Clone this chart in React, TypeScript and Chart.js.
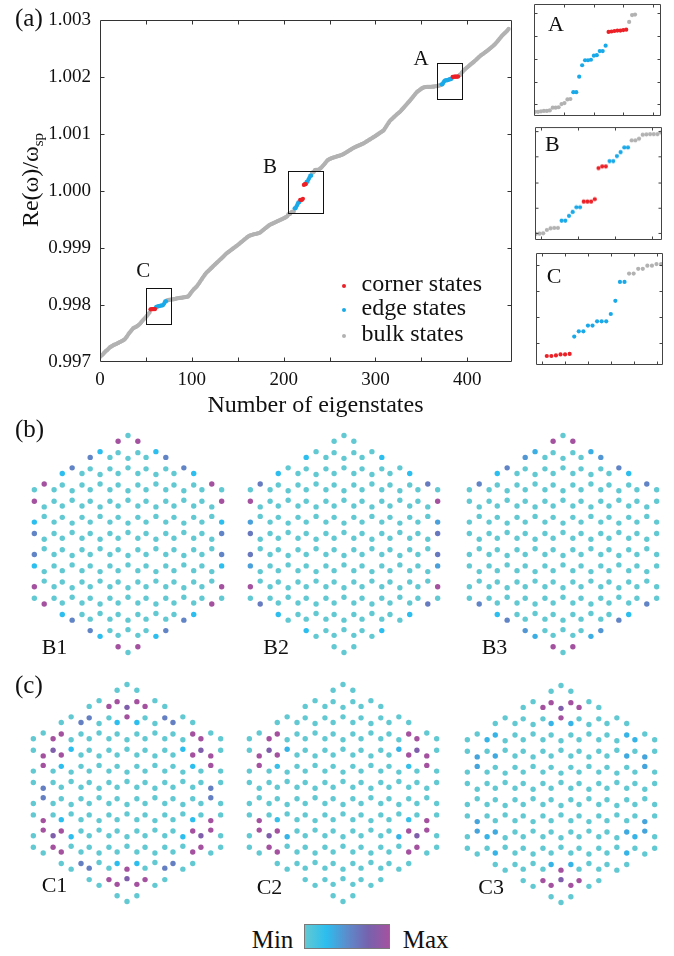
import React, { useEffect, useRef } from 'react';
import { Chart, registerables } from 'chart.js';

Chart.register(...registerables);

const SERIF = '"Liberation Serif", "Times New Roman", Times, serif';

// ---------------- (a) spectrum: Re(w)/w_sp - 1, in units of 1e-6, state index 0..445 ----------------
const EIGEN_PPM: number[] = [
  -2910, -2895, -2880, -2868, -2850, -2832, -2815, -2800, -2790, -2772, -2755, -2740,
  -2730, -2722, -2712, -2700, -2695, -2688, -2680, -2672, -2665, -2655, -2648, -2640, -2630, -2622, -2612, -2600,
  -2580, -2560, -2535, -2510, -2490, -2470, -2450, -2430, -2410,
  -2400, -2392, -2385, -2375, -2365, -2350, -2338, -2320,
  -2300, -2280, -2262, -2245, -2228, -2210, -2190, -2170, -2150, -2130,
  -2074, -2074, -2073, -2071, -2071, -2070,
  -2037, -2027, -2027, -2016, -2016, -2008, -2008, -2008, -1994, -1969, -1933, -1933,
  -1917, -1917, -1908, -1908, -1902, -1902, -1899, -1899,
  -1895, -1890, -1886, -1882, -1880, -1877, -1874, -1872, -1870, -1868, -1866, -1863, -1860, -1857, -1853, -1850,
  -1830, -1808, -1785, -1765, -1745, -1725, -1710, -1695, -1680,
  -1660, -1635, -1612, -1590, -1565, -1540, -1518, -1495, -1470, -1450, -1430,
  -1415, -1400, -1385, -1370, -1352, -1338, -1322, -1305, -1290, -1275, -1260, -1245, -1230, -1215, -1200,
  -1185, -1170, -1155, -1138, -1122, -1105, -1090,
  -1078, -1066, -1055, -1042, -1030, -1018, -1005, -993, -982, -970, -958, -945, -932, -920,
  -905, -892, -880, -866, -852, -840, -826, -812, -800, -790, -780,
  -775, -770, -765, -760, -756, -752, -748, -744, -740, -735, -730,
  -718, -705, -692, -678, -665, -652, -640, -627, -615, -602, -590,
  -582, -575, -568, -560, -553, -545, -537, -530, -522, -515, -507, -500, -493, -485, -477, -470, -460, -450, -440,
  -405, -403, -400, -374, -361, -358, -358,
  -301, -301, -264, -233, -196, -196,
  -152, -152, -152, -133, 110, 123, 123,
  165, 165, 204, 235, 272, 272,
  327, 327, 340, 371, 374, 376, 376, 376, 389,
  400, 415, 432, 450, 468, 487, 508, 530,
  545, 555, 565, 572, 578, 584, 590,
  595, 600, 605, 610, 615, 620, 625, 630, 636, 643, 650,
  660, 670, 680, 690, 700, 710, 720, 730, 740, 750, 760,
  768, 775, 782, 790, 797, 804, 811, 818, 826, 833, 840,
  850, 860, 870, 880, 890, 900, 910, 920, 930, 940, 950,
  960, 970, 981, 992, 1003, 1014, 1025, 1036, 1047, 1058, 1070,
  1095, 1120, 1145, 1170, 1195, 1218, 1240,
  1255, 1270, 1285, 1300, 1315, 1330, 1345, 1360, 1372, 1386, 1400,
  1418, 1436, 1454, 1472, 1490, 1508, 1527, 1546, 1564, 1582, 1600,
  1620, 1640, 1660, 1680, 1700, 1720, 1740,
  1752, 1764, 1776, 1788, 1800, 1810, 1820,
  1824, 1828, 1830, 1831, 1832, 1833,
  1834, 1834, 1835, 1836, 1836, 1837, 1843, 1843, 1844, 1851, 1853, 1861, 1862,
  1877, 1877, 1911, 1936, 1947, 1947, 1948, 1957, 1958, 1967, 1967, 1979,
  2009, 2010, 2011, 2012, 2012, 2013, 2014,
  2031, 2046, 2047, 2085, 2100, 2120,
  2135, 2150, 2163, 2177, 2190, 2205, 2218, 2232, 2245, 2258, 2270,
  2285, 2300, 2315, 2330, 2345, 2360, 2375, 2390, 2400, 2410,
  2422, 2434, 2446, 2458, 2470, 2483, 2496, 2510, 2523, 2537, 2550,
  2565, 2580, 2598, 2616, 2635, 2655, 2675, 2695, 2715, 2733, 2750,
  2765, 2780, 2795, 2810, 2830, 2850,
];
const CORNER_RANGES = [[55, 60], [218, 224], [384, 390]];
const EDGE_RANGES = [[61, 72], [212, 217], [225, 230], [372, 383]];

const X_TICKS = [0, 50, 100, 150, 200, 250, 300, 350, 400];
const X_LABELED = [0, 100, 200, 300, 400];
const Y_TICKS = [0.997, 0.998, 0.999, 1.0, 1.001, 1.002, 1.003];
const LEGEND_LABELS = ['corner states', 'edge states', 'bulk states'];

const BOX_NAMES = ['A', 'B', 'C'];
const BOX_X = [[367.4, 394.7], [205.1, 242.6], [49.8, 77.0]];
const BOX_Y = [[1.001627, 1.002255], [0.99961, 1.000356], [0.997667, 0.998306]];
const BOX_LABEL_AT = [[349.7, 1.00221], [185.2, 1.000328], [47.2, 0.998491]];

const INSET_X = [[358.66, 401.8], [204.8, 239.2], [52.66, 80.4]];
const INSET_Y_PPM = [[1825, 2070], [-452, 431], [-2091, -1878]];
const INSET_X_TICKS = [[369, 379, 389, 399], [206.5, 216.5, 226.5, 236.5], [54, 59, 64, 69, 74, 79]];
const INSET_Y_TICKS_PPM = [[1850, 1900, 1950, 2000, 2050], [-400, -200, 0, 200, 400], [-2050, -2000, -1950, -1900]];

const RED = '#EC2027';
const BLUE = '#1AA9E8';
const GRAY = '#B2B2B2';

// ---------------- (b),(c) field maps on the hexagonal flake ----------------
// cluster axial coordinates (c, r) with |c|,|r|,|c+r| <= FLAKE_RADIUS, 6 sites per cluster (k = 0 top, clockwise)
const FLAKE_RADIUS = 3;
const SITE_RADIUS = 0.3535; // in units of the cluster spacing
// highlighted sites: [c, r, k, normalised intensity]; every other site sits at the minimum
const B1_SITES = [
  [0, -3, 5, 1], [0, -3, 1, 1],
  [-1, -2, 0, 0.25], [-1, -2, 5, 0.55], [-2, -1, 0, 0.55], [-2, -1, 5, 0.25],
  [-3, 0, 0, 1], [-3, 0, 4, 1],
  [-3, 1, 5, 0.25], [-3, 1, 4, 0.55], [-3, 2, 5, 0.55], [-3, 2, 4, 0.25],
  [-3, 3, 5, 1], [-3, 3, 3, 1],
  [-2, 3, 4, 0.25], [-2, 3, 3, 0.55], [-1, 3, 4, 0.55], [-1, 3, 3, 0.25],
  [0, 3, 4, 1], [0, 3, 2, 1],
  [1, 2, 3, 0.25], [1, 2, 2, 0.55], [2, 1, 3, 0.55], [2, 1, 2, 0.25],
  [3, 0, 3, 1], [3, 0, 1, 1],
  [3, -1, 2, 0.25], [3, -1, 1, 0.55], [3, -2, 2, 0.55], [3, -2, 1, 0.25],
  [3, -3, 2, 1], [3, -3, 0, 1],
  [2, -3, 1, 0.25], [2, -3, 0, 0.55], [1, -3, 1, 0.55], [1, -3, 0, 0.25],
];
const B2_SITES = [
  [-3, 0, 0, 0.6], [-3, 0, 4, 1], [-3, 1, 5, 0.4], [-3, 1, 4, 0.62], [-3, 2, 5, 0.62], [-3, 2, 4, 0.4], [-3, 3, 5, 1], [-3, 3, 3, 0.6],
  [-2, -1, 5, 0.25], [-1, -2, 5, 0.25], [-2, 3, 4, 0.25], [-1, 3, 4, 0.25],
  [3, -3, 0, 0.6], [3, -3, 2, 1], [3, -2, 1, 0.4], [3, -2, 2, 0.62], [3, -1, 1, 0.62], [3, -1, 2, 0.4], [3, 0, 1, 1], [3, 0, 3, 0.6],
  [2, -3, 1, 0.25], [1, -3, 1, 0.25], [2, 1, 2, 0.25], [1, 2, 2, 0.25],
];
const B3_SITES = [
  [0, -3, 5, 1], [0, -3, 1, 1], [-1, -2, 0, 0.33], [-1, -2, 5, 0.45], [-2, -1, 0, 0.55], [-2, -1, 5, 0.25], [-3, 0, 0, 0.55],
  [1, -3, 0, 0.33], [1, -3, 1, 0.45], [2, -3, 0, 0.55], [2, -3, 1, 0.25], [3, -3, 0, 0.55],
  [0, 3, 4, 1], [0, 3, 2, 1], [-1, 3, 3, 0.33], [-1, 3, 4, 0.45], [-2, 3, 3, 0.55], [-2, 3, 4, 0.25], [-3, 3, 3, 0.55],
  [1, 2, 3, 0.33], [1, 2, 2, 0.45], [2, 1, 3, 0.55], [2, 1, 2, 0.25], [3, 0, 3, 0.55],
];
const C1_SITES = [
  [0, -3, 4, 1], [0, -3, 3, 0.8], [0, -3, 2, 1], [-1, -2, 1, 1], [0, -2, 0, 1], [1, -3, 5, 1],
  [-3, 0, 1, 1], [-3, 0, 2, 0.8], [-3, 0, 3, 1], [-2, -1, 4, 1], [-2, 0, 5, 1], [-3, 1, 0, 1],
  [-3, 3, 0, 1], [-3, 3, 1, 0.8], [-3, 3, 2, 1], [-3, 2, 3, 1], [-2, 2, 4, 1], [-2, 3, 5, 1],
  [0, 3, 5, 1], [0, 3, 0, 0.8], [0, 3, 1, 1], [-1, 3, 2, 1], [0, 2, 3, 1], [1, 2, 4, 1],
  [3, 0, 0, 1], [3, 0, 5, 0.8], [3, 0, 4, 1], [3, -1, 3, 1], [2, 0, 2, 1], [2, 1, 1, 1],
  [3, -3, 5, 1], [3, -3, 4, 0.8], [3, -3, 3, 1], [2, -3, 2, 1], [2, -2, 1, 1], [3, -2, 0, 1],
  [-2, -1, 1, 0.58], [-1, -2, 4, 0.58], [-3, 1, 3, 0.58], [-3, 2, 0, 0.58], [-2, 3, 2, 0.58], [-1, 3, 5, 0.58],
  [1, -3, 2, 0.58], [2, -3, 5, 0.58], [3, -2, 3, 0.58], [3, -1, 0, 0.58], [1, 2, 1, 0.58], [2, 1, 4, 0.58],
  [0, -2, 5, 0.25], [0, -2, 1, 0.25], [0, 2, 4, 0.25], [0, 2, 2, 0.25],
  [-2, 0, 0, 0.25], [-2, 0, 4, 0.25], [-2, 2, 3, 0.25], [-2, 2, 5, 0.25],
  [2, -2, 0, 0.25], [2, -2, 2, 0.25], [2, 0, 3, 0.25], [2, 0, 1, 0.25],
];
const C2_SITES = [
  [-3, 0, 1, 1], [-3, 0, 2, 0.8], [-3, 0, 3, 1], [-2, -1, 4, 1], [-2, 0, 5, 1], [-3, 1, 0, 1],
  [-3, 3, 0, 1], [-3, 3, 1, 0.8], [-3, 3, 2, 1], [-3, 2, 3, 1], [-2, 2, 4, 1], [-2, 3, 5, 1],
  [3, 0, 0, 1], [3, 0, 5, 0.8], [3, 0, 4, 1], [3, -1, 3, 1], [2, 0, 2, 1], [2, 1, 1, 1],
  [3, -3, 5, 1], [3, -3, 4, 0.8], [3, -3, 3, 1], [2, -3, 2, 1], [2, -2, 1, 1], [3, -2, 0, 1],
  [-2, 0, 0, 0.3], [-2, 0, 4, 0.2], [-2, 2, 3, 0.3], [-2, 2, 5, 0.2],
  [2, -2, 0, 0.3], [2, -2, 2, 0.2], [2, 0, 3, 0.3], [2, 0, 1, 0.2],
];
const C3_SITES = [
  [0, -3, 4, 1], [0, -3, 3, 0.8], [0, -3, 2, 1], [-1, -2, 1, 1], [0, -2, 0, 1], [1, -3, 5, 1],
  [0, 3, 5, 1], [0, 3, 0, 0.8], [0, 3, 1, 1], [-1, 3, 2, 1], [0, 2, 3, 1], [1, 2, 4, 1],
  [0, -2, 5, 0.3], [0, -2, 1, 0.3], [0, 2, 4, 0.3], [0, 2, 2, 0.3],
  [-3, 0, 1, 0.3], [-3, 0, 3, 0.38], [-2, -1, 4, 0.3], [-2, 0, 5, 0.35], [-3, 1, 0, 0.38],
  [-3, 3, 1, 0.3], [-3, 3, 0, 0.38], [-2, 3, 5, 0.3], [-2, 2, 4, 0.35], [-3, 2, 3, 0.38],
  [3, -3, 5, 0.3], [3, -3, 3, 0.38], [2, -3, 2, 0.3], [2, -2, 1, 0.35], [3, -2, 0, 0.38],
  [3, 0, 5, 0.3], [3, 0, 0, 0.38], [2, 1, 1, 0.3], [2, 0, 2, 0.35], [3, -1, 3, 0.38],
];
const PANEL_NAMES = ['B1', 'B2', 'B3', 'C1', 'C2', 'C3'];
const PANEL_SITES = [B1_SITES, B2_SITES, B3_SITES, C1_SITES, C2_SITES, C3_SITES];

// colour map (Min -> Max)
const CMAP_STOPS: [number, number[]][] = [
  [0, [98, 201, 211]],
  [0.25, [44, 190, 238]],
  [0.5, [92, 140, 204]],
  [0.75, [118, 98, 174]],
  [1, [164, 82, 160]],
];

// ---------------- layout (page pixels) ----------------
const PANEL_CENTERS = [[127.7, 544.3], [344, 543.8], [563, 544], [126.7, 792.5], [342.7, 793.3], [560.7, 794]];
const CLUSTER_PX = 33.1;
const PANEL_W = 210;
const PANEL_H = 240;

function cmap(t: number): string {
  const v = Math.max(0, Math.min(1, t));
  for (let i = 1; i < CMAP_STOPS.length; i++) {
    const [t1, c1] = CMAP_STOPS[i];
    const [t0, c0] = CMAP_STOPS[i - 1];
    if (v <= t1) {
      const f = (v - t0) / (t1 - t0);
      const c = c0.map((a, j) => Math.round(a + (c1[j] - a) * f));
      return `rgb(${c[0]},${c[1]},${c[2]})`;
    }
  }
  const c = CMAP_STOPS[CMAP_STOPS.length - 1][1];
  return `rgb(${c[0]},${c[1]},${c[2]})`;
}

function stateKind(i: number): 'corner' | 'edge' | 'bulk' {
  if (CORNER_RANGES.some(([a, b]) => i >= a && i <= b)) return 'corner';
  if (EDGE_RANGES.some(([a, b]) => i >= a && i <= b)) return 'edge';
  return 'bulk';
}

function spectrumPoints(kind: string) {
  return EIGEN_PPM.map((d, i) => ({ x: i, y: 1 + d * 1e-6 })).filter((_, i) => stateKind(i) === kind);
}

type Site = { key: string; x: number; y: number };
function buildSites(): Site[] {
  const out: Site[] = [];
  for (let c = -FLAKE_RADIUS; c <= FLAKE_RADIUS; c++) {
    for (let r = -FLAKE_RADIUS; r <= FLAKE_RADIUS; r++) {
      if (Math.abs(c + r) > FLAKE_RADIUS) continue;
      const cx = c * Math.sqrt(3) / 2;
      const cy = -(r + c / 2);
      for (let k = 0; k < 6; k++) {
        const th = ((90 - 60 * k) * Math.PI) / 180;
        out.push({ key: `${c},${r},${k}`, x: cx + SITE_RADIUS * Math.cos(th), y: cy + SITE_RADIUS * Math.sin(th) });
      }
    }
  }
  return out;
}
const SITES = buildSites();

function framePlugin(xTicks: number[], yTicks: number[], len: number, color: string) {
  return {
    id: 'frameTicks',
    afterDatasetsDraw(chart: any) {
      const { ctx, chartArea: a, scales } = chart;
      const L = Math.round(a.left) + 0.5;
      const R = Math.round(a.right) - 0.5;
      const T = Math.round(a.top) + 0.5;
      const B = Math.round(a.bottom) - 0.5;
      ctx.save();
      ctx.strokeStyle = color;
      ctx.lineWidth = 1;
      ctx.beginPath();
      ctx.rect(L, T, R - L, B - T);
      for (const v of xTicks) {
        const p = Math.round(scales.x.getPixelForValue(v)) + 0.5;
        if (p <= L + 1 || p >= R - 1) continue;
        ctx.moveTo(p, B); ctx.lineTo(p, B - len);
        ctx.moveTo(p, T); ctx.lineTo(p, T + len);
      }
      for (const v of yTicks) {
        const p = Math.round(scales.y.getPixelForValue(v)) + 0.5;
        if (p <= T + 1 || p >= B - 1) continue;
        ctx.moveTo(L, p); ctx.lineTo(L + len, p);
        ctx.moveTo(R, p); ctx.lineTo(R - len, p);
      }
      ctx.stroke();
      ctx.restore();
    },
  };
}

const mainDecor = {
  id: 'mainDecor',
  afterDraw(chart: any) {
    const { ctx, scales } = chart;
    const xs = scales.x;
    const ys = scales.y;
    ctx.save();
    // zoom boxes
    ctx.strokeStyle = '#111';
    ctx.lineWidth = 1;
    BOX_X.forEach((bx, i) => {
      const x0 = Math.round(xs.getPixelForValue(bx[0])) + 0.5;
      const x1 = Math.round(xs.getPixelForValue(bx[1])) + 0.5;
      const y0 = Math.round(ys.getPixelForValue(BOX_Y[i][1])) + 0.5;
      const y1 = Math.round(ys.getPixelForValue(BOX_Y[i][0])) + 0.5;
      ctx.strokeRect(x0, y0, x1 - x0, y1 - y0);
      ctx.fillStyle = '#111';
      ctx.font = `21px ${SERIF}`;
      ctx.textAlign = 'center';
      ctx.textBaseline = 'alphabetic';
      ctx.fillText(BOX_NAMES[i], xs.getPixelForValue(BOX_LABEL_AT[i][0]), ys.getPixelForValue(BOX_LABEL_AT[i][1]));
    });
    // legend
    const colors = [RED, BLUE, GRAY];
    const rowsY = [286, 310, 336];
    ctx.font = `24px ${SERIF}`;
    ctx.textAlign = 'left';
    LEGEND_LABELS.forEach((lab, i) => {
      ctx.fillStyle = colors[i];
      ctx.beginPath();
      ctx.arc(344, rowsY[i], 2, 0, Math.PI * 2);
      ctx.fill();
      ctx.fillStyle = '#111';
      ctx.fillText(lab, 361.5, rowsY[i] + 5);
    });
    // x title
    ctx.textAlign = 'center';
    ctx.fillText('Number of eigenstates', 315.5, 411.5);
    // y title with subscript
    ctx.translate(38, 180);
    ctx.rotate(-Math.PI / 2);
    ctx.font = `24px ${SERIF}`;
    const main = 'Re(\u03c9)/\u03c9';
    const wMain = ctx.measureText(main).width;
    ctx.font = `15px ${SERIF}`;
    const wSub = ctx.measureText('sp').width;
    const start = -(wMain + wSub) / 2;
    ctx.textAlign = 'left';
    ctx.font = `24px ${SERIF}`;
    ctx.fillText(main, start, 0);
    ctx.font = `15px ${SERIF}`;
    ctx.fillText('sp', start + wMain, 5);
    ctx.restore();
  },
};

function mainConfig(): any {
  const common = { pointRadius: 2.1, pointBorderWidth: 0, pointHoverRadius: 0 };
  return {
    type: 'scatter',
    data: {
      datasets: [
        { label: LEGEND_LABELS[0], data: spectrumPoints('corner'), backgroundColor: RED, ...common },
        { label: LEGEND_LABELS[1], data: spectrumPoints('edge'), backgroundColor: BLUE, ...common },
        { label: LEGEND_LABELS[2], data: spectrumPoints('bulk'), backgroundColor: GRAY, ...common },
      ],
    },
    options: {
      responsive: false,
      animation: false,
      events: [],
      layout: { padding: { left: 0, top: 5, right: 7.7, bottom: 0 } },
      plugins: { legend: { display: false }, tooltip: { enabled: false } },
      scales: {
        x: {
          type: 'linear', min: 0, max: 449,
          afterFit(s: any) { s.height = 58; },
          afterBuildTicks(s: any) { s.ticks = X_TICKS.map((v) => ({ value: v })); },
          ticks: {
            callback: (v: any) => (X_LABELED.includes(Number(v)) ? String(v) : ''),
            font: { family: SERIF, size: 19 }, color: '#111', padding: 7, maxRotation: 0, autoSkip: false,
          },
          grid: { display: false, drawTicks: false },
          border: { display: false },
        },
        y: {
          type: 'linear', min: 0.997, max: 1.003,
          afterFit(s: any) { s.width = 100; },
          afterBuildTicks(s: any) { s.ticks = Y_TICKS.map((v) => ({ value: v })); },
          ticks: {
            callback: (v: any) => Number(v).toFixed(3),
            font: { family: SERIF, size: 19 }, color: '#111', padding: 9, autoSkip: false,
          },
          grid: { display: false, drawTicks: false },
          border: { display: false },
        },
      },
    },
    plugins: [framePlugin(X_TICKS, Y_TICKS, 4, '#333'), mainDecor],
  };
}

function insetConfig(i: number): any {
  const common = { pointRadius: 2.1, pointBorderWidth: 0, pointHoverRadius: 0, clip: 0 };
  return {
    type: 'scatter',
    data: {
      datasets: [
        { data: spectrumPoints('corner'), backgroundColor: RED, ...common },
        { data: spectrumPoints('edge'), backgroundColor: BLUE, ...common },
        { data: spectrumPoints('bulk'), backgroundColor: GRAY, ...common },
      ],
    },
    options: {
      responsive: false,
      animation: false,
      events: [],
      layout: { padding: 2 },
      plugins: { legend: { display: false }, tooltip: { enabled: false } },
      scales: {
        x: { type: 'linear', display: false, min: INSET_X[i][0], max: INSET_X[i][1] },
        y: { type: 'linear', display: false, min: 1 + INSET_Y_PPM[i][0] * 1e-6, max: 1 + INSET_Y_PPM[i][1] * 1e-6 },
      },
    },
    plugins: [framePlugin(INSET_X_TICKS[i], INSET_Y_TICKS_PPM[i].map((v) => 1 + v * 1e-6), 3, '#444')],
  };
}

function latticeConfig(i: number): any {
  const hl = new Map<string, number>(PANEL_SITES[i].map(([c, r, k, t]) => [`${c},${r},${k}`, t] as [string, number]));
  const order = [...SITES].sort((a, b) => (hl.get(a.key) ?? 0) - (hl.get(b.key) ?? 0));
  const xr = PANEL_W / 2 / CLUSTER_PX;
  const yr = PANEL_H / 2 / CLUSTER_PX;
  return {
    type: 'scatter',
    data: {
      datasets: [
        {
          data: order.map((s) => ({ x: s.x, y: s.y })),
          backgroundColor: order.map((s) => cmap(hl.get(s.key) ?? 0)),
          pointRadius: 2.7, pointBorderWidth: 0, pointHoverRadius: 0, clip: false,
        },
      ],
    },
    options: {
      responsive: false,
      animation: false,
      events: [],
      layout: { padding: 0 },
      plugins: { legend: { display: false }, tooltip: { enabled: false } },
      scales: {
        x: { type: 'linear', display: false, min: -xr, max: xr },
        y: { type: 'linear', display: false, min: -yr, max: yr },
      },
    },
  };
}

function ChartCanvas(props: { left: number; top: number; width: number; height: number; make: () => any }) {
  const ref = useRef<HTMLCanvasElement>(null);
  useEffect(() => {
    const chart = new Chart(ref.current as HTMLCanvasElement, props.make());
    return () => chart.destroy();
  }, []);
  return (
    <canvas
      ref={ref}
      width={props.width}
      height={props.height}
      style={{ position: 'absolute', left: props.left, top: props.top, width: props.width, height: props.height }}
    />
  );
}

function Label(props: { text: string; left: number; baseline: number; size: number }) {
  return (
    <div
      style={{
        position: 'absolute', left: props.left, top: props.baseline - props.size * 0.8375,
        fontFamily: SERIF, fontSize: props.size, lineHeight: 1, whiteSpace: 'nowrap', color: '#111',
      }}
    >
      {props.text}
    </div>
  );
}

const INSET_BOXES = [[532, 2, 131, 116], [533, 125.3, 131, 116.7], [534, 250.7, 131, 116.3]];
const INSET_LABEL_POS = [[548, 31.7], [545, 151.7], [546.7, 283.3]];
const PANEL_LABEL_POS = [[41.7, 654.3], [263.3, 654.3], [481.7, 654.3], [41.7, 892.7], [256.7, 894.3], [478.3, 894.3]];

export default function App() {
  const gradient = `linear-gradient(to right, ${[0, 0.25, 0.5, 0.75, 1].map((t) => `${cmap(t)} ${t * 100}%`).join(', ')})`;
  return (
    <div style={{ position: 'absolute', left: 0, top: 0, width: 674, height: 956, background: '#fff', overflow: 'hidden' }}>
      <ChartCanvas left={0} top={0} width={520} height={420} make={mainConfig} />
      {INSET_BOXES.map((b, i) => (
        <ChartCanvas key={'in' + i} left={b[0]} top={b[1]} width={b[2]} height={b[3]} make={() => insetConfig(i)} />
      ))}
      {INSET_LABEL_POS.map((p, i) => (
        <Label key={'il' + i} text={BOX_NAMES[i]} left={p[0]} baseline={p[1]} size={22} />
      ))}
      {PANEL_CENTERS.map((c, i) => (
        <ChartCanvas
          key={'p' + i}
          left={Math.round(c[0] - PANEL_W / 2)}
          top={Math.round(c[1] - PANEL_H / 2)}
          width={PANEL_W}
          height={PANEL_H}
          make={() => latticeConfig(i)}
        />
      ))}
      {PANEL_LABEL_POS.map((p, i) => (
        <Label key={'pl' + i} text={PANEL_NAMES[i]} left={p[0]} baseline={p[1]} size={22} />
      ))}
      <Label text="(a)" left={15} baseline={26} size={25} />
      <Label text="(b)" left={15} baseline={436.7} size={25} />
      <Label text="(c)" left={15} baseline={693.3} size={25} />
      <Label text="Min" left={251.7} baseline={948.3} size={25} />
      <Label text="Max" left={402.7} baseline={948.3} size={25} />
      <div
        style={{
          position: 'absolute', left: 304, top: 924, width: 86, height: 25,
          background: gradient, boxSizing: 'border-box', border: '1px solid #7a7a7a',
        }}
      />
    </div>
  );
}
